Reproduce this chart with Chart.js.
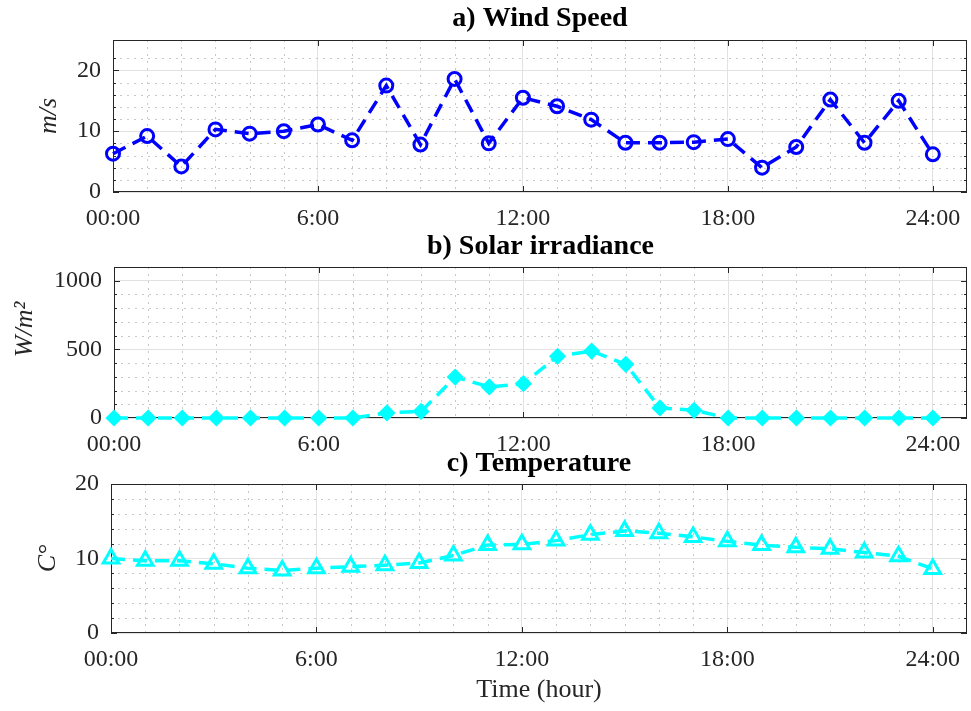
<!DOCTYPE html>
<html>
<head>
<meta charset="utf-8">
<script src="https://cdn.jsdelivr.net/npm/chart.js@4.4.0/dist/chart.umd.min.js"></script>
<style>
  html, body { margin:0; padding:0; background:#fff; }
  #wrap { position:relative; width:971px; height:711px; }
  #wrap canvas { position:absolute; left:0; }
</style>
</head>
<body>
<div id="wrap">
  <canvas id="windChart" width="971" height="232" style="top:0"></canvas>
  <canvas id="solarChart" width="971" height="233" style="top:225px"></canvas>
  <canvas id="tempChart" width="971" height="271" style="top:440px"></canvas>
</div>
<script>
// hourly samples over one day
const hours = [0,1,2,3,4,5,6,7,8,9,10,11,12,13,14,15,16,17,18,19,20,21,22,23,24];
const windSpeed = [6.3,9.2,4.2,10.3,9.6,10.0,11.1,8.5,17.5,7.8,18.6,8.0,15.5,14.1,11.9,8.1,8.1,8.2,8.7,4.0,7.4,15.2,8.1,15.0,6.2];
const solarIrr = [0,0,0,0,0,0,0,0,37,48,298,226,250,449,488,391,73,56,0,0,0,0,0,0,0];
const temperature = [10.0,9.7,9.7,9.3,8.7,8.4,8.7,8.9,9.1,9.4,10.4,11.8,11.9,12.4,13.2,13.7,13.4,12.9,12.3,11.8,11.5,11.3,10.8,10.3,8.6];
const hourTickLabels = ['00:00','6:00','12:00','18:00','24:00'];

const SERIF = "'Liberation Serif', 'DejaVu Serif', serif";
const AXIS_COL = '#262626';

// MATLAB-ish box, minor dotted grid and inward ticks
const matlabBox = {
  id: 'matlabBox',
  beforeDatasetsDraw(chart, args, opts){
    const {ctx, chartArea:a, scales:{x, y}} = chart;
    ctx.save();
    ctx.lineWidth = 1;
    ctx.strokeStyle = '#c8c8c8';
    ctx.setLineDash([2,5]);
    x.ticks.forEach(t => {
      if(t.value % 6 !== 0 && t.value < x.max){
        const px = Math.round(x.getPixelForValue(t.value)) + 0.5;
        ctx.beginPath(); ctx.moveTo(px, a.top); ctx.lineTo(px, a.bottom); ctx.stroke();
      }
    });
    y.ticks.forEach(t => {
      if(t.value % opts.yMajor !== 0 && t.value < y.max){
        const py = Math.round(y.getPixelForValue(t.value)) + 0.5;
        ctx.beginPath(); ctx.moveTo(a.left, py); ctx.lineTo(a.right, py); ctx.stroke();
      }
    });
    ctx.setLineDash([]);
    ctx.strokeStyle = AXIS_COL;
    ctx.strokeRect(Math.round(a.left)+0.5, Math.round(a.top)+0.5, Math.round(a.right-a.left)-1, Math.round(a.bottom-a.top)-1);
    x.ticks.forEach(t => {
      if(t.value % 6 === 0 && t.value <= 24){
        const px = Math.round(x.getPixelForValue(t.value)) + 0.5;
        ctx.beginPath();
        ctx.moveTo(px, a.bottom); ctx.lineTo(px, a.bottom-6);
        ctx.moveTo(px, a.top); ctx.lineTo(px, a.top+6);
        ctx.stroke();
      }
    });
    y.ticks.forEach(t => {
      if(t.value >= y.max) return;
      const len = t.value % opts.yMajor === 0 ? 6 : 3;
      const py = Math.round(y.getPixelForValue(t.value)) + 0.5;
      ctx.beginPath();
      ctx.moveTo(a.left, py); ctx.lineTo(a.left+len, py);
      ctx.moveTo(a.right, py); ctx.lineTo(a.right-len, py);
      ctx.stroke();
    });
    ctx.restore();
  }
};

function makePanel(id, o){
  const el = document.getElementById(id);
  return new Chart(el.getContext('2d'), {
    type: 'line',
    data: {
      datasets: [{
        data: hours.map((h,i) => ({x:h, y:o.values[i]})),
        borderColor: o.color,
        borderWidth: 3.5,
        borderDash: [14,8],
        tension: 0,
        fill: false,
        clip: false,
        pointStyle: o.marker,
        pointRadius: o.radius,
        pointBorderWidth: o.markerWidth,
        pointBorderColor: o.color,
        pointBackgroundColor: o.filled ? o.color : 'rgba(0,0,0,0)'
      }]
    },
    options: {
      responsive: false,
      animation: false,
      layout: { autoPadding: false, padding: { right: 4 } },
      plugins: {
        legend: { display:false },
        tooltip: { enabled:false },
        title: {
          display: true, text: o.title, color: '#000', fullSize: false,
          font: { family: SERIF, size: 28, weight: 'bold', lineHeight: 1 },
          padding: { top: o.titlePad[0], bottom: o.titlePad[1] }
        },
        matlabBox: { yMajor: o.yMajor }
      },
      scales: {
        x: {
          type: 'linear', min: 0, max: 25,
          border: { display:false },
          grid: { drawTicks:false, color: c => (c.tick && c.tick.value % 6 === 0 && c.tick.value <= 24) ? '#e2e2e2' : 'rgba(0,0,0,0)' },
          ticks: {
            stepSize: 1, autoSkip: false, maxRotation: 0, padding: 12, color: AXIS_COL,
            font: { family: SERIF, size: 24 },
            callback: v => (v % 6 === 0 && v <= 24) ? hourTickLabels[v/6] : ''
          },
          title: o.xTitle ? {
            display: true, text: o.xTitle, color: AXIS_COL,
            font: { family: SERIF, size: 26 }, padding: { top:0, bottom: 5 }
          } : { display:false },
          afterFit: s => { s.height = o.xHeight; s.paddingLeft = 0; s.paddingRight = 0; }
        },
        y: {
          min: 0, max: o.yMax,
          border: { display:false },
          grid: { drawTicks:false, color: c => (c.tick && c.tick.value % o.yMajor === 0 && c.tick.value < o.yMax) ? '#e2e2e2' : 'rgba(0,0,0,0)' },
          ticks: {
            stepSize: o.yStep, autoSkip: false, padding: 12, color: AXIS_COL,
            font: { family: SERIF, size: 24 },
            callback: v => (v % o.yMajor === 0) ? String(v) : ''
          },
          title: {
            display: true, text: o.yTitle, color: AXIS_COL,
            font: { family: SERIF, size: 26, style: 'italic' }, padding: { top: o.yTitlePad, bottom: 0 }
          },
          afterFit: s => { s.width = o.yWidth; }
        }
      }
    },
    plugins: [matlabBox]
  });
}

makePanel('windChart', {
  title: 'a) Wind Speed', titlePad: [5, 7], values: windSpeed, color: '#0000ff',
  marker: 'circle', radius: 6.5, markerWidth: 3, filled: false,
  yMax: 25, yStep: 2, yMajor: 10, yTitle: 'm/s', yTitlePad: 34, yWidth: 113, xHeight: 40
});
makePanel('solarChart', {
  title: 'b) Solar irradiance', titlePad: [8, 6], values: solarIrr, color: '#00ffff',
  marker: 'rectRot', radius: 6.5, markerWidth: 3, filled: true,
  yMax: 1100, yStep: 100, yMajor: 500, yTitle: '\u2002\u2002W/m\u00b2', yTitlePad: 10, yWidth: 114, xHeight: 40
});
makePanel('tempChart', {
  title: 'c) Temperature', titlePad: [10, 6], values: temperature, color: '#00ffff',
  marker: 'triangle', radius: 9, markerWidth: 3, filled: false,
  yMax: 20, yStep: 2, yMajor: 10, yTitle: 'C\u00b0', yTitlePad: 33, yWidth: 111, xHeight: 78,
  xTitle: 'Time (hour)'
});
</script>
</body>
</html>
